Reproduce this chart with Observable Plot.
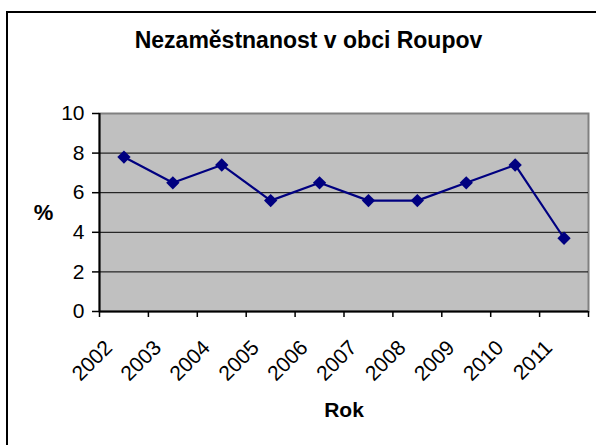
<!DOCTYPE html>
<html>
<head>
<meta charset="utf-8">
<script src="https://cdn.jsdelivr.net/npm/d3@7"></script>
<script src="https://cdn.jsdelivr.net/npm/@observablehq/plot@0.6"></script>
<style>
  html, body { margin: 0; padding: 0; background: #fff; }
  #wrap { position: relative; width: 596px; height: 445px; overflow: hidden; }
  #border { position: absolute; left: 6px; top: 11px; width: 700px; height: 600px; border-left: 2px solid #000; border-top: 2px solid #000; }
  #chart { position: absolute; left: 0; top: 0; }
</style>
</head>
<body>
<div id="wrap"><div id="border"></div><div id="chart"></div></div>
<script>
const title = "Nezaměstnanost v obci Roupov";
const xLabel = "Rok";
const yLabel = "%";
const years = ["2002", "2003", "2004", "2005", "2006", "2007", "2008", "2009", "2010", "2011"];
const values = [7.8, 6.5, 7.4, 5.6, 6.5, 5.6, 5.6, 6.5, 7.4, 3.7];
const yTicks = [0, 2, 4, 6, 8, 10];

const data = years.map((year, i) => ({year, pos: i + 0.5, value: values[i]}));
const font = "'Liberation Sans', Arial, sans-serif";

const chart = Plot.plot({
  width: 596,
  height: 445,
  marginLeft: 99,
  marginRight: 8,
  marginTop: 113,
  marginBottom: 134,
  style: {fontFamily: font, background: "transparent", overflow: "visible", color: "#000"},
  x: {domain: [0, years.length], axis: null},
  y: {domain: [0, 10], axis: null},
  marks: [
    Plot.frame({fill: "#C0C0C0", stroke: "#808080", strokeWidth: 2}),
    Plot.ruleY(yTicks.filter(d => d > 0 && d < 10), {stroke: "#000", strokeWidth: 1}),
    Plot.ruleY([0], {stroke: "#000", strokeWidth: 2}),
    Plot.ruleX([0], {stroke: "#000", strokeWidth: 2}),
    Plot.axisY({ticks: yTicks, tickSize: 7, tickPadding: 8, fontSize: 21, label: null, stroke: "#000", strokeWidth: 1.5}),
    Plot.axisX({ticks: d3.range(years.length + 1), tickSize: 6, tickFormat: () => "", label: null, stroke: "#000", strokeWidth: 1.5}),
    Plot.axisX({
      ticks: data.map(d => d.pos),
      tickSize: 0,
      tickPadding: 3,
      tickFormat: p => years[Math.floor(p)],
      tickRotate: -45,
      textAnchor: "end",
      lineAnchor: "top",
      fontSize: 21,
      dx: -21,
      dy: 24,
      label: null
    }),
    Plot.line(data, {x: "pos", y: "value", stroke: "#000080", strokeWidth: 2.2}),
    Plot.dot(data, {x: "pos", y: "value", symbol: "diamond2", fill: "#000080", stroke: "none", r: 6}),
    Plot.text([title], {frameAnchor: "top", dx: -35.5, dy: -65.3, lineAnchor: "bottom", fontSize: 23, fontWeight: "bold", fill: "#000"}),
    Plot.text([yLabel], {frameAnchor: "left", dx: -56, lineAnchor: "middle", textAnchor: "middle", fontSize: 22, fontWeight: "bold", fill: "#000"}),
    Plot.text([xLabel], {frameAnchor: "bottom", dy: 105.7, lineAnchor: "bottom", fontSize: 21, fontWeight: "bold", fill: "#000"})
  ]
});
document.getElementById("chart").appendChild(chart);
</script>
</body>
</html>
